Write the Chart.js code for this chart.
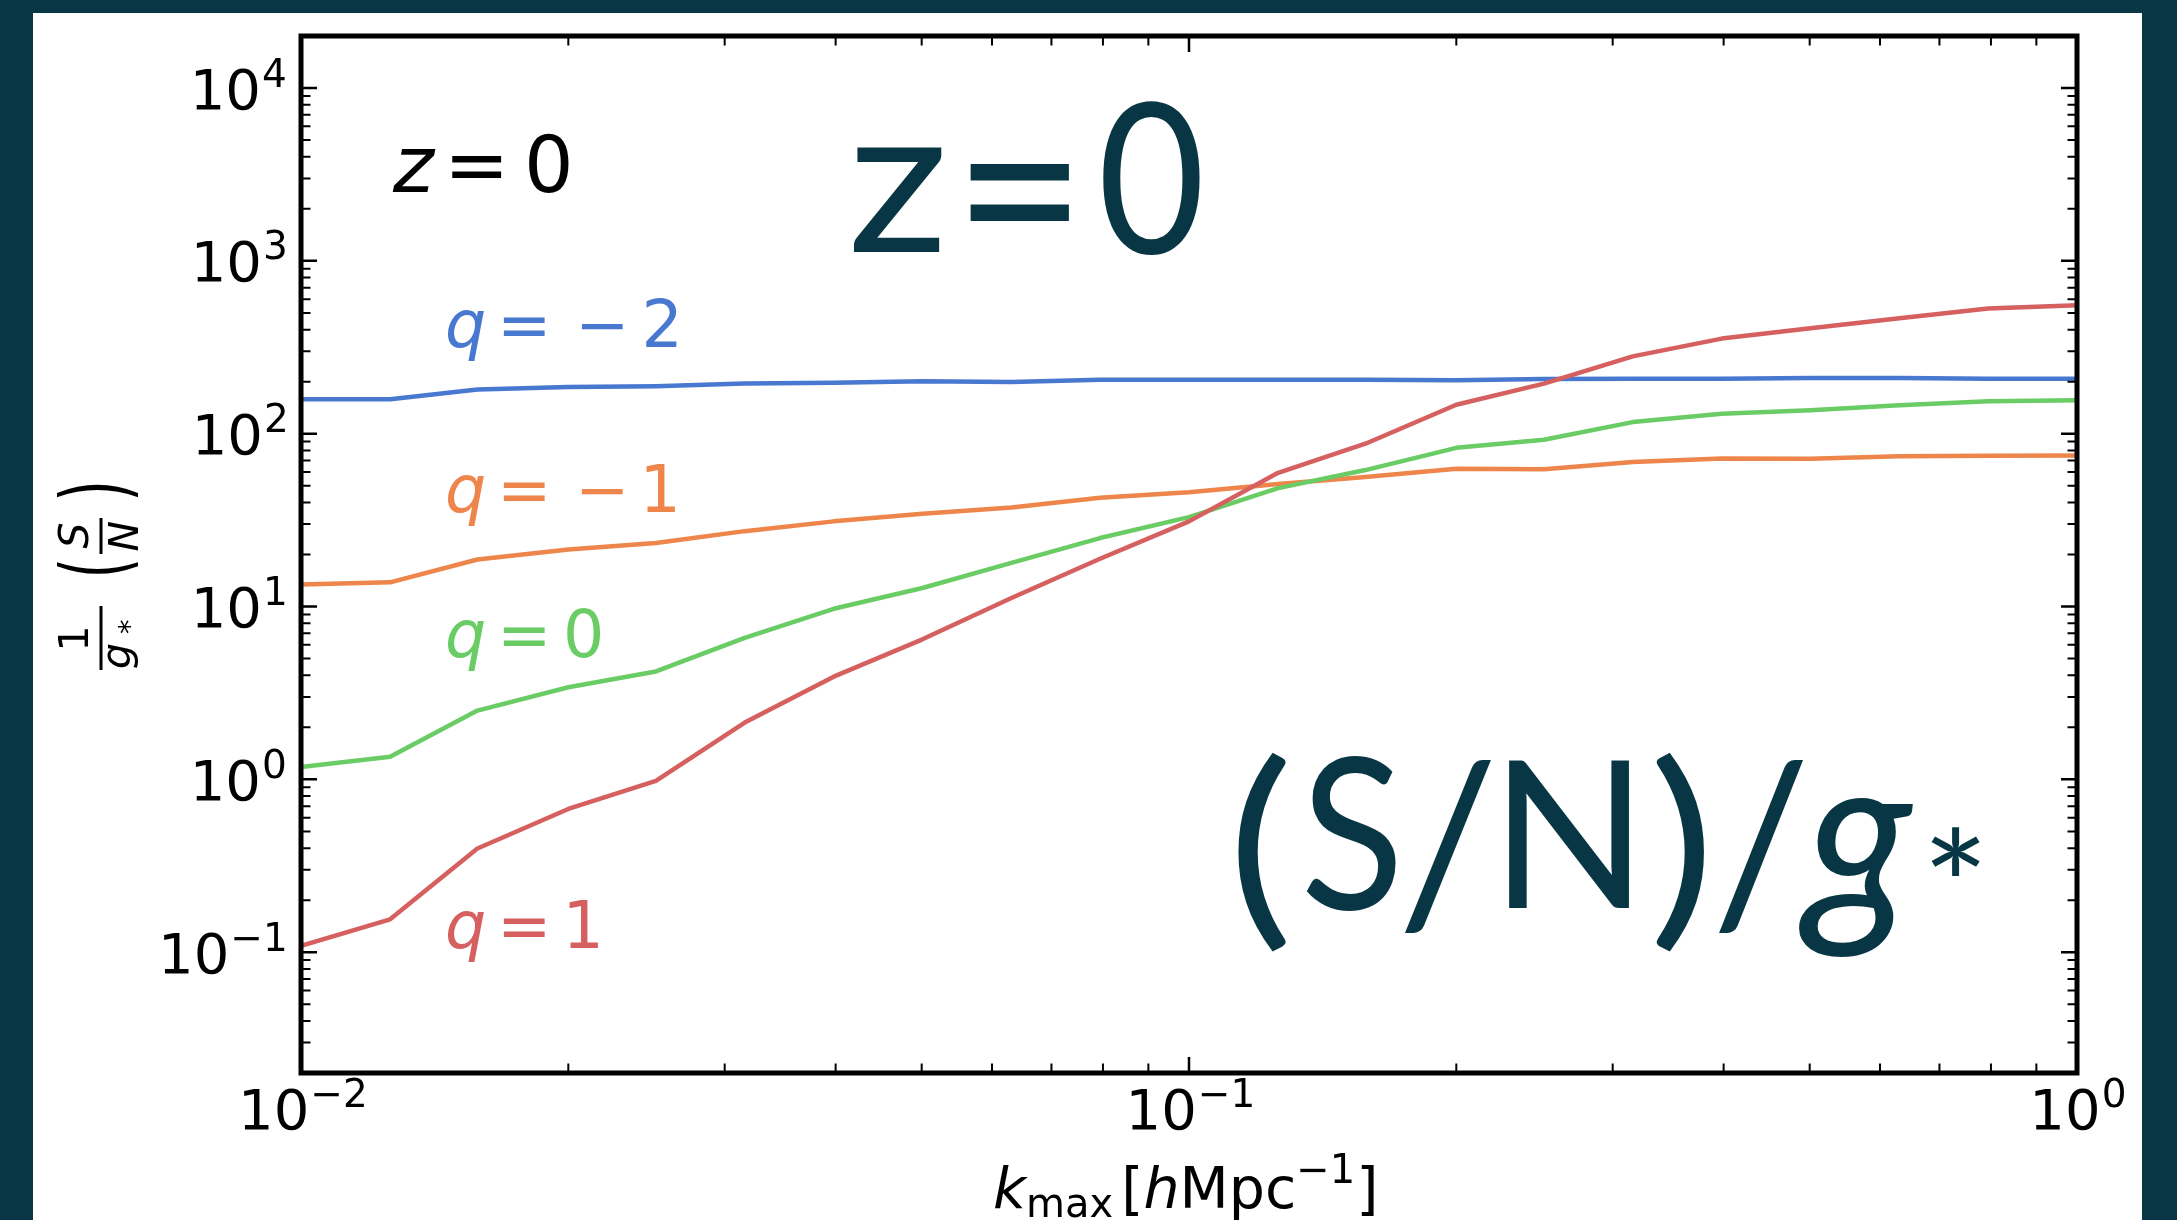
<!DOCTYPE html>
<html><head><meta charset="utf-8">
<script src="https://cdn.jsdelivr.net/npm/chart.js@4.4.1/dist/chart.umd.min.js"></script>
<style>html,body{margin:0;padding:0;background:#083644;overflow:hidden}canvas{display:block}</style>
</head><body>
<canvas id="c" width="2177" height="1220"></canvas>
<script>
// ---- data ----
const kmax = [0.01, 0.0126, 0.0158, 0.02, 0.0251, 0.0316, 0.0398, 0.0501, 0.0631, 0.0794, 0.1,
              0.126, 0.158, 0.2, 0.251, 0.316, 0.398, 0.501, 0.631, 0.794, 1.0];
const snQm2 = [158, 158, 180, 186, 188, 195, 197, 201, 199, 205, 205, 205, 205, 204, 207, 208, 208, 210, 210, 208, 208];
const snQm1 = [13.4, 13.8, 18.7, 21.4, 23.3, 27.3, 31.1, 34.4, 37.4, 42.6, 45.8, 51.2, 56.2, 62.7, 62.3, 68.5, 71.9, 71.7, 74.0, 74.6, 74.8];
const snQ0  = [1.18, 1.35, 2.5, 3.41, 4.21, 6.59, 9.7, 12.8, 17.9, 24.9, 32.9, 48.4, 61.6, 82.8, 92.3, 116.7, 130.6, 136.5, 146, 154, 156];
const snQ1  = [0.109, 0.155, 0.398, 0.674, 0.98, 2.13, 3.93, 6.46, 11.2, 18.9, 31.1, 59.4, 87.5, 147, 195, 280, 355, 408, 465, 530, 553];
const seriesNames = ['q = −2', 'q = −1', 'q = 0', 'q = 1'];
const seriesColors = ['#4878D0', '#EE854A', '#6ACC64', '#D65F5F'];

const yRange = [0.02, 20000];
const xRange = [0.01, 1];
const yMajorTicks = [0.1, 1, 10, 100, 1000, 10000];
const yTickExponents = ['−1', '0', '1', '2', '3', '4'];   // labels: 10^exp
const xMajorTicks = [0.01, 0.1, 1];
const xTickExponents = ['−2', '−1', '0'];
const yDecades = [0.01, 0.1, 1, 10, 100, 1000, 10000];
const xDecades = [0.01, 0.1, 1];

const TEAL = '#083644';
const DJ = '"DejaVu Sans"';

function buildLogTicks(decades, lo, hi) {
  const out = [];
  for (const d of decades) {
    for (let k = 1; k <= 9; k++) {
      const v = k * d;
      if (v > lo * 1.0001 && v < hi * 0.9999) out.push({ value: v, major: k === 1 });
    }
  }
  return out;
}

function drawInk(ctx, text, font, inkLeft, baseline, color) {
  ctx.font = font; ctx.fillStyle = color;
  ctx.textAlign = 'left'; ctx.textBaseline = 'alphabetic';
  const m = ctx.measureText(text);
  ctx.fillText(text, inkLeft + m.actualBoundingBoxLeft, baseline);
}
function drawInkC(ctx, text, font, inkCenter, baseline, color) {
  ctx.font = font;
  const m = ctx.measureText(text);
  const w = m.actualBoundingBoxLeft + m.actualBoundingBoxRight;
  drawInk(ctx, text, font, inkCenter - w / 2, baseline, color);
}
function fitInk(ctx, text, font, x0, x1, y0, y1, color) {
  ctx.font = font; ctx.fillStyle = color;
  ctx.textAlign = 'left'; ctx.textBaseline = 'alphabetic';
  const m = ctx.measureText(text);
  const w = m.actualBoundingBoxLeft + m.actualBoundingBoxRight;
  const h = m.actualBoundingBoxAscent + m.actualBoundingBoxDescent;
  ctx.save();
  ctx.translate(x0, y0);
  ctx.scale((x1 - x0) / w, (y1 - y0) / h);
  ctx.fillText(text, m.actualBoundingBoxLeft, m.actualBoundingBoxAscent);
  ctx.restore();
}
// "10^exp" tick label, mathtext-like
function drawPow(ctx, exp, anchorX, baseline, align) {
  const FM = '56px ' + DJ, FS = '39px ' + DJ;
  ctx.font = FM; const wMain = ctx.measureText('10').width;
  ctx.font = FS; const ms = ctx.measureText(exp);
  const total = wMain + 1 + ms.actualBoundingBoxRight;
  const x0 = align === 'right' ? anchorX - total : anchorX - total / 2;
  ctx.fillStyle = '#000'; ctx.textAlign = 'left'; ctx.textBaseline = 'alphabetic';
  ctx.font = FM; ctx.fillText('10', x0, baseline);
  ctx.font = FS; ctx.fillText(exp, x0 + wMain + 1, baseline - 22);
}

const framePlugin = {
  id: 'frame',
  beforeDraw(chart) {
    const ctx = chart.ctx;
    ctx.save();
    ctx.fillStyle = TEAL; ctx.fillRect(0, 0, chart.width, chart.height);
    ctx.fillStyle = '#ffffff'; ctx.fillRect(33, 13, 2142 - 33, chart.height - 13);
    ctx.restore();
  },
  afterDatasetsDraw(chart) {
    const { ctx, chartArea: a, scales: { x, y } } = chart;
    ctx.save();
    ctx.strokeStyle = '#000'; ctx.lineCap = 'butt';
    for (const t of y.ticks) {
      const p = y.getPixelForValue(t.value);
      const L = t.major ? 16 : 9.5;
      ctx.lineWidth = t.major ? 2.5 : 2;
      ctx.beginPath();
      ctx.moveTo(a.left, p); ctx.lineTo(a.left + L, p);
      ctx.moveTo(a.right, p); ctx.lineTo(a.right - L, p);
      ctx.stroke();
    }
    for (const t of x.ticks) {
      const p = x.getPixelForValue(t.value);
      const L = t.major ? 16 : 9.5;
      ctx.lineWidth = t.major ? 2.5 : 2;
      ctx.beginPath();
      ctx.moveTo(p, a.bottom); ctx.lineTo(p, a.bottom - L);
      ctx.moveTo(p, a.top); ctx.lineTo(p, a.top + L);
      ctx.stroke();
    }
    ctx.lineWidth = 5; ctx.lineJoin = 'miter';
    ctx.strokeRect(a.left, a.top, a.right - a.left, a.bottom - a.top);

    // tick labels at the scale's own tick positions
    yMajorTicks.forEach((v, i) => {
      const p = y.getPixelForValue(v);
      drawPow(ctx, yTickExponents[i], a.left - 16, p + 20.5, 'right');
    });
    xMajorTicks.forEach((v, i) => {
      const p = x.getPixelForValue(v);
      drawPow(ctx, xTickExponents[i], p, a.bottom + 56, 'center');
    });
    ctx.restore();
  },
  afterDraw(chart) {
    const ctx = chart.ctx;
    ctx.save();
    // series labels (mathtext style)
    const qRows = [
      { minus: true,  digit: '2', base: 347, c: seriesColors[0] },
      { minus: true,  digit: '1', base: 512, c: seriesColors[1] },
      { minus: false, digit: '0', base: 657, c: seriesColors[2] },
      { minus: false, digit: '1', base: 948, c: seriesColors[3] }
    ];
    for (const r of qRows) {
      drawInk(ctx, 'q', 'italic 65px ' + DJ, 447, r.base, r.c);
      drawInkC(ctx, '=', '65px ' + DJ, 524, r.base, r.c);
      if (r.minus) {
        drawInkC(ctx, '−', '65px ' + DJ, 602, r.base, r.c);
        drawInkC(ctx, r.digit, '65px ' + DJ, 661, r.base, r.c);
      } else {
        drawInkC(ctx, r.digit, '65px ' + DJ, 584, r.base, r.c);
      }
    }
    // black z = 0
    drawInk(ctx, 'z', 'italic 78px ' + DJ, 392, 192, '#000');
    drawInkC(ctx, '=', '78px ' + DJ, 477, 192, '#000');
    drawInkC(ctx, '0', '78px ' + DJ, 549, 192, '#000');

    // big teal z=0
    const LB = '208px Lato', LBI = 'italic 208px Lato';
    fitInk(ctx, 'z', LB, 854, 942, 147, 252, TEAL);
    fitInk(ctx, '=', LB, 970, 1070, 163, 220, TEAL);
    fitInk(ctx, '0', LB, 1103, 1200, 102, 255, TEAL);
    // big teal (S/N)/g*
    fitInk(ctx, '(', LB, 1238, 1287, 752, 952, TEAL);
    fitInk(ctx, 'S', LB, 1306, 1396, 756, 911, TEAL);
    fitInk(ctx, '/', LB, 1404, 1492, 759, 933, TEAL);
    fitInk(ctx, 'N', LB, 1509, 1629, 759, 908, TEAL);
    fitInk(ctx, ')', LB, 1656, 1705, 752, 952, TEAL);
    fitInk(ctx, '/', LB, 1718, 1804, 759, 933, TEAL);
    fitInk(ctx, 'g', LBI, 1799, 1913, 799, 958, TEAL);
    fitInk(ctx, '*', LB, 1931, 1980, 826, 875, TEAL);

    // x axis title: k_max [h Mpc^-1]  (sequential mathtext-like layout)
    const F = '57px ' + DJ, FI = 'italic 57px ' + DJ, FS = '40px ' + DJ;
    const base = 1208;
    const pieces = [
      { t: 'k', f: FI, dy: 0 }, { t: 'max', f: FS, dy: 9 }, { gap: 8 },
      { t: '[', f: F, dy: 0 }, { t: 'h', f: FI, dy: 0 }, { t: 'Mpc', f: F, dy: 0 },
      { t: '−1', f: FS, dy: -25 }, { gap: 1 }, { t: ']', f: F, dy: 0 }
    ];
    ctx.font = FI;
    let pen = 995 + ctx.measureText('k').actualBoundingBoxLeft;
    ctx.fillStyle = '#000'; ctx.textAlign = 'left'; ctx.textBaseline = 'alphabetic';
    for (const p of pieces) {
      if (p.gap) { pen += p.gap; continue; }
      ctx.font = p.f;
      ctx.fillText(p.t, pen, base + p.dy);
      pen += ctx.measureText(p.t).width;
    }

    // y axis title: (1/g*) (S/N), rotated
    ctx.translate(101, 576);
    ctx.rotate(-Math.PI / 2);
    const YF = '41px ' + DJ, YFI = 'italic 41px ' + DJ;
    drawInkC(ctx, '1', YF, -62, -13, '#000');
    ctx.strokeStyle = '#000'; ctx.lineWidth = 3;
    ctx.beginPath(); ctx.moveTo(-94, 0); ctx.lineTo(-30, 0); ctx.stroke();
    drawInk(ctx, 'g', YFI, -92, 29, '#000');
    drawInk(ctx, '*', '29px ' + DJ, -58, 38, '#000');
    fitInk(ctx, '(', '60px ' + DJ, 2, 14, -44, 37, '#000');
    drawInkC(ctx, 'S', YFI, 40, -13, '#000');
    ctx.beginPath(); ctx.moveTo(22, 0); ctx.lineTo(58, 0); ctx.stroke();
    drawInkC(ctx, 'N', YFI, 40, 37, '#000');
    fitInk(ctx, ')', '60px ' + DJ, 78, 92, -44, 37, '#000');
    ctx.restore();
  }
};

const allSeries = [snQm2, snQm1, snQ0, snQ1];
const datasets = allSeries.map((vals, i) => ({
  label: seriesNames[i],
  data: kmax.map((k, j) => ({ x: k, y: vals[j] })),
  borderColor: seriesColors[i],
  backgroundColor: seriesColors[i],
  borderWidth: 4.5,
  pointRadius: 0,
  tension: 0,
  fill: false,
  borderJoinStyle: 'round',
  order: 3 - i
}));

new Chart(document.getElementById('c'), {
  type: 'line',
  data: { datasets },
  plugins: [framePlugin],
  options: {
    responsive: false,
    devicePixelRatio: 1,
    animation: false,
    layout: { padding: { left: 0, top: 36, right: 100, bottom: 0 } },
    plugins: { legend: { display: false }, tooltip: { enabled: false }, title: { display: false } },
    scales: {
      x: {
        type: 'logarithmic', position: 'bottom',
        min: xRange[0], max: xRange[1],
        grid: { display: false, drawTicks: false },
        border: { display: false },
        afterBuildTicks: s => { s.ticks = buildLogTicks(xDecades, xRange[0] / 1.001, xRange[1] * 1.001); },
        afterFit: s => { s.height = 147; s.paddingLeft = 0; s.paddingRight = 0; },
        ticks: { display: false, autoSkip: false, maxRotation: 0, minRotation: 0 }
      },
      y: {
        type: 'logarithmic', position: 'left',
        min: yRange[0], max: yRange[1],
        grid: { display: false, drawTicks: false },
        border: { display: false },
        afterBuildTicks: s => { s.ticks = buildLogTicks(yDecades, yRange[0], yRange[1]); },
        afterFit: s => { s.width = 301; s.paddingTop = 0; s.paddingBottom = 0; },
        ticks: { display: false, autoSkip: false }
      }
    }
  }
});
</script>
</body></html>
